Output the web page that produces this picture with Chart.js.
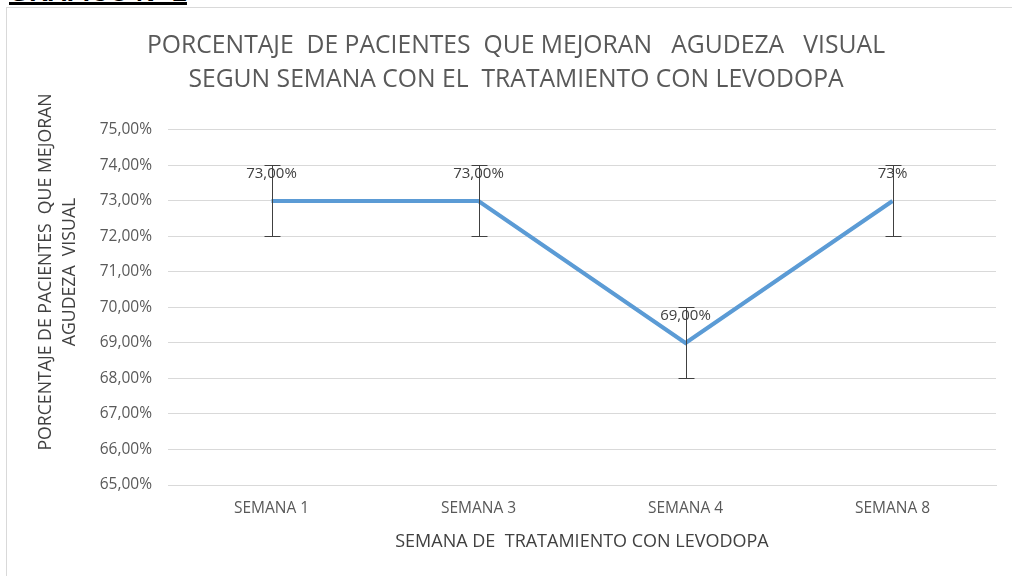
<!DOCTYPE html>
<html>
<head>
<meta charset="utf-8">
<script src="https://cdn.jsdelivr.net/npm/chart.js@4.4.1/dist/chart.umd.min.js"></script>
<style>
    html, body { margin: 0; padding: 0; background: #fff; overflow: hidden; }
    #heading {
        position: absolute; left: 9px; top: -23px;
        font: bold 26px "Liberation Sans", Arial, sans-serif; line-height: 30px;
        text-decoration: underline; text-decoration-thickness: 3px; text-underline-offset: 1px;
        white-space: pre;
    }
    #frame { position: absolute; left: 6px; top: 7px; width: 1200px; height: 800px; border: 1px solid #d9d9d9; }
    #wrap { position: absolute; left: 0; top: 0; width: 1012px; height: 576px; }
</style>
</head>
<body>
<div id="heading">GRAFICO N° 2</div>
<div id="frame"></div>
<div id="wrap"><canvas id="chartLoc"></canvas></div>
<script>
// chart data
const semanas = ["SEMANA 1", "SEMANA 3", "SEMANA 4", "SEMANA 8"];
const porcentajes = [73, 73, 69, 73];
const errorMas = [1, 1, 1, 1];
const errorMenos = [1, 1, 1, 1];
const etiquetas = ["73,00%", "73,00%", "69,00%", "73%"];
const yTicks = [65, 66, 67, 68, 69, 70, 71, 72, 73, 74, 75];

const titulo = ["PORCENTAJE  DE PACIENTES  QUE MEJORAN   AGUDEZA   VISUAL",
                "SEGUN SEMANA CON EL  TRATAMIENTO CON LEVODOPA"];
const tituloY = ["PORCENTAJE DE PACIENTES  QUE MEJORAN", "AGUDEZA  VISUAL"];
const tituloX = "SEMANA DE  TRATAMIENTO CON LEVODOPA";

const fuente = "'Open Sans', sans-serif";

// error bars drawn on top of the line
const errorBars = {
    id: "errorBars",
    afterDatasetsDraw(chart) {
        const ctx = chart.ctx;
        const x = chart.scales.x, y = chart.scales.y;
        ctx.save();
        ctx.strokeStyle = "#404040";
        ctx.lineWidth = 1;
        porcentajes.forEach(function (v, i) {
            const px = Math.round(x.getPixelForValue(i)) + 0.5;
            const top = Math.round(y.getPixelForValue(v + errorMas[i])) + 0.5;
            const bot = Math.round(y.getPixelForValue(v - errorMenos[i])) + 0.5;
            ctx.beginPath();
            ctx.moveTo(px, top); ctx.lineTo(px, bot);
            ctx.moveTo(px - 8, top); ctx.lineTo(px + 8, top);
            ctx.moveTo(px - 8, bot); ctx.lineTo(px + 8, bot);
            ctx.stroke();
        });
        ctx.restore();
    }
};

// value labels above each point + rotated y axis title
const textos = {
    id: "textos",
    afterDraw(chart) {
        const ctx = chart.ctx;
        const x = chart.scales.x, y = chart.scales.y;
        ctx.save();
        ctx.fillStyle = "#404040";
        ctx.font = "15px " + fuente;
        ctx.textAlign = "center";
        ctx.textBaseline = "middle";
        porcentajes.forEach(function (v, i) {
            ctx.fillText(etiquetas[i], x.getPixelForValue(i), y.getPixelForValue(v) - 27);
        });

        ctx.font = "17.7px " + fuente;
        ctx.translate(46, 272);
        ctx.rotate(-Math.PI / 2);
        tituloY.forEach(function (t, i) {
            ctx.fillText(t, 0, i * 24);
        });
        ctx.restore();
    }
};

const canvas = document.getElementById("chartLoc");
canvas.chart = new Chart(canvas.getContext("2d"), {
    type: "line",
    data: {
        labels: semanas,
        datasets: [{
            label: "Porcentaje",
            data: porcentajes,
            borderColor: "#5B9BD5",
            borderWidth: 4,
            pointRadius: 0,
            fill: false,
            tension: 0,
        }],
    },
    options: {
        responsive: true,
        maintainAspectRatio: false,
        animation: false,
        layout: { padding: { left: 36, right: 16, top: 18, bottom: 23 } },
        plugins: {
            legend: { display: false },
            tooltip: { enabled: false },
            title: {
                display: true,
                text: titulo,
                color: "#595959",
                font: { family: fuente, size: 24.7, weight: "normal", lineHeight: 1.38 },
                padding: { top: 11, bottom: 32.8 },
            },
        },
        scales: {
            x: {
                offset: true,
                grid: { display: false },
                border: { color: "#d9d9d9" },
                ticks: { color: "#595959", font: { family: fuente, size: 15.5 }, padding: 6 },
                title: {
                    display: true,
                    text: tituloX,
                    color: "#404040",
                    font: { family: fuente, size: 18 },
                    padding: { top: 7.8, bottom: 0 },
                },
            },
            y: {
                min: 65,
                max: 75,
                afterBuildTicks: function (scale) {
                    scale.ticks = yTicks.map(v => ({ value: v }));
                },
                afterFit: function (scale) {
                    scale.width = 132;
                },
                grid: { color: "#d9d9d9", drawTicks: false },
                border: { display: false },
                ticks: {
                    color: "#595959",
                    font: { family: fuente, size: 15.5 },
                    padding: 16,
                    callback: v => v.toFixed(2).replace(".", ",") + "%",
                },
            },
        },
    },
    plugins: [errorBars, textos],
});
</script>
</body>
</html>
